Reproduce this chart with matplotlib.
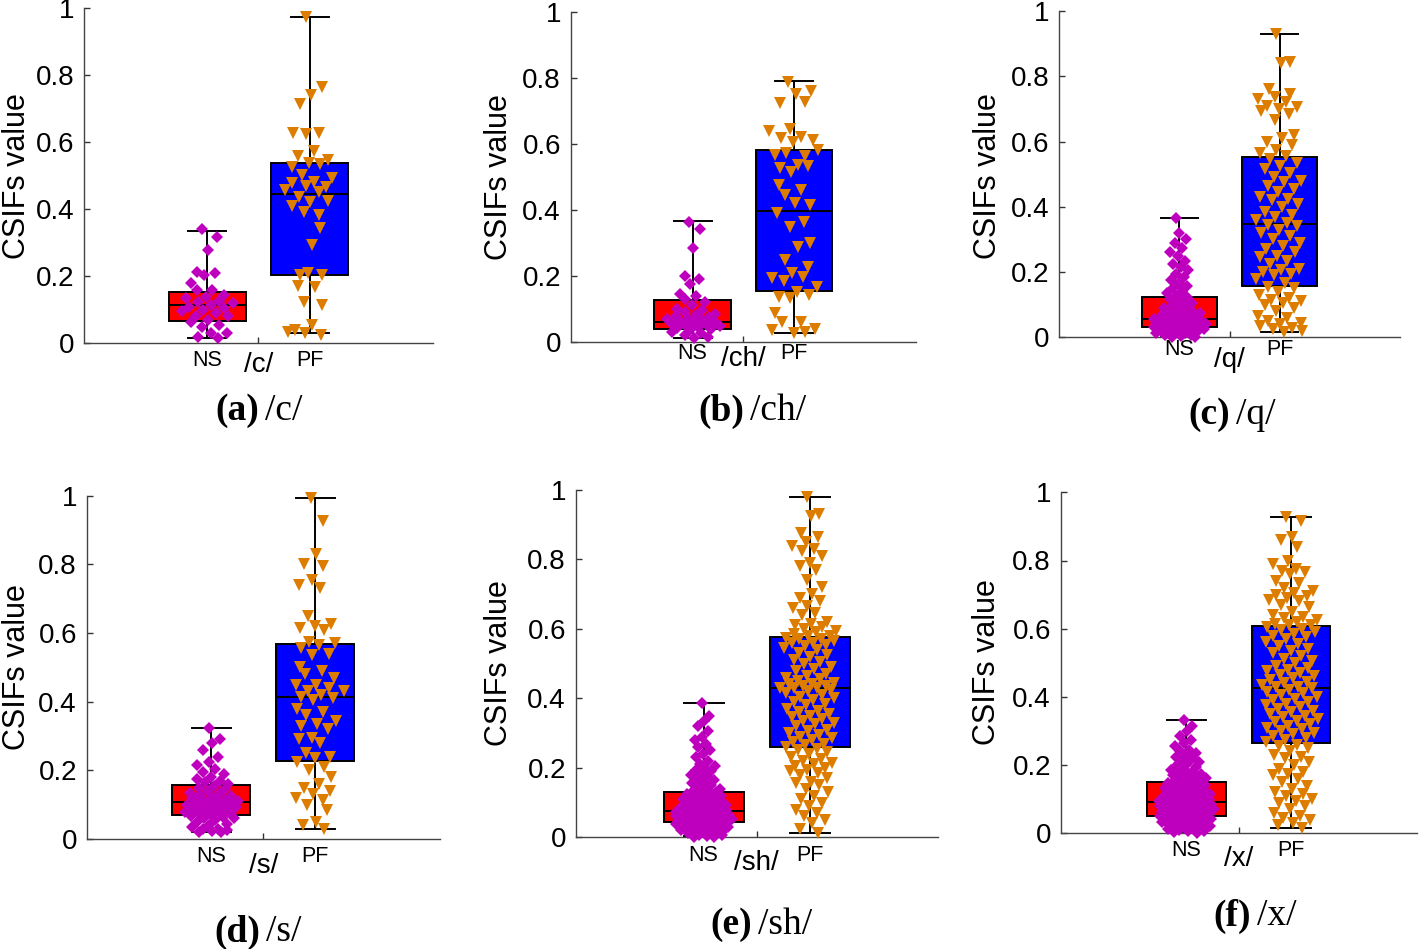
import numpy as np
import matplotlib
matplotlib.use("Agg")
import matplotlib.pyplot as plt

# ---------------- data ----------------
phonemes = ['/c/', '/ch/', '/q/', '/s/', '/sh/', '/x/']
panel_letters = ['(a)', '(b)', '(c)', '(d)', '(e)', '(f)']
groups = ['NS', 'PF']
y_ticks = [0, 0.2, 0.4, 0.6, 0.8, 1]
y_tick_labels = ['0', '0.2', '0.4', '0.6', '0.8', '1']

# box statistics
ns_q1 = [0.067, 0.038, 0.0325, 0.069, 0.045, 0.051]
ns_med = [0.114, 0.061, 0.055, 0.107, 0.075, 0.092]
ns_q3 = [0.154, 0.126, 0.1235, 0.157, 0.131, 0.149]
ns_lo = [0.017, 0.010, 0.003, 0.019, 0.005, 0.004]
ns_hi = [0.335, 0.366, 0.365, 0.324, 0.386, 0.332]
pf_q1 = [0.205, 0.155, 0.157, 0.228, 0.259, 0.264]
pf_med = [0.445, 0.397, 0.347, 0.414, 0.429, 0.427]
pf_q3 = [0.539, 0.580, 0.553, 0.567, 0.578, 0.608]
pf_lo = [0.030, 0.025, 0.017, 0.029, 0.013, 0.017]
pf_hi = [0.975, 0.790, 0.929, 0.992, 0.981, 0.929]

# individual CSIF values
ns_c = [0.34, 0.316, 0.278, 0.214, 0.21, 0.203, 0.18, 0.16, 0.159, 0.145, 0.139, 0.135,
        0.127, 0.124, 0.119, 0.114, 0.109, 0.104, 0.1, 0.095, 0.09, 0.08, 0.08, 0.07,
        0.065, 0.055, 0.05, 0.032, 0.03, 0.02, 0.015]
pf_c = [0.975, 0.766, 0.741, 0.714, 0.629, 0.625, 0.629, 0.575, 0.559, 0.547, 0.539, 0.527,
        0.535, 0.502, 0.493, 0.48, 0.478, 0.468, 0.47, 0.458, 0.453, 0.438, 0.425, 0.423,
        0.41, 0.383, 0.393, 0.343, 0.294, 0.204, 0.204, 0.211, 0.171, 0.167, 0.124, 0.114,
        0.055, 0.04, 0.025, 0.03, 0.035]
ns_ch = [0.364, 0.343, 0.283, 0.2, 0.19, 0.175, 0.145, 0.14, 0.13, 0.12, 0.11, 0.1, 0.095,
         0.09, 0.085, 0.08, 0.078, 0.075, 0.07, 0.068, 0.065, 0.062, 0.06, 0.058, 0.055,
         0.052, 0.05, 0.048, 0.045, 0.042, 0.04, 0.035, 0.03, 0.025, 0.02, 0.015, 0.01]
pf_ch = [0.788, 0.76, 0.75, 0.722, 0.727, 0.646, 0.638, 0.62, 0.616, 0.611, 0.606, 0.566,
         0.563, 0.571, 0.58, 0.535, 0.525, 0.532, 0.515, 0.475, 0.46, 0.444, 0.414, 0.419,
         0.389, 0.364, 0.348, 0.298, 0.288, 0.247, 0.227, 0.207, 0.192, 0.197, 0.184, 0.167,
         0.152, 0.136, 0.141, 0.131, 0.086, 0.061, 0.061, 0.04, 0.025, 0.035, 0.03]
ns_q = [0.0, 0.002, 0.004, 0.006, 0.008, 0.01, 0.012, 0.014, 0.016, 0.018, 0.02, 0.022,
        0.024, 0.025, 0.026, 0.027, 0.028, 0.03, 0.031, 0.032,
        0.033, 0.034, 0.035, 0.036, 0.037, 0.038, 0.039, 0.04, 0.041, 0.042, 0.043, 0.044,
        0.045, 0.046, 0.047, 0.048, 0.05, 0.051, 0.053, 0.055,
        0.056, 0.058, 0.06, 0.062, 0.064, 0.066, 0.068, 0.07, 0.073, 0.076, 0.079, 0.082,
        0.086, 0.09, 0.095, 0.1, 0.105, 0.11, 0.116, 0.122,
        0.128, 0.135, 0.142, 0.15, 0.158, 0.166, 0.175, 0.185, 0.195, 0.205, 0.215, 0.225,
        0.235, 0.25, 0.26, 0.275, 0.29, 0.3, 0.32, 0.365]
pf_q = [0.929, 0.845, 0.84, 0.76, 0.745, 0.735, 0.73, 0.72, 0.71, 0.705, 0.70, 0.695,
        0.685, 0.665, 0.62, 0.612, 0.60, 0.59, 0.575, 0.565, 0.555,
        0.545, 0.535, 0.525, 0.515, 0.505, 0.49, 0.48, 0.475, 0.465, 0.455, 0.445, 0.43,
        0.425, 0.42, 0.41, 0.40, 0.385, 0.375, 0.37, 0.36, 0.35,
        0.345, 0.34, 0.33, 0.32, 0.31, 0.30, 0.29, 0.28, 0.27, 0.26, 0.25, 0.245, 0.235,
        0.225, 0.21, 0.205, 0.2, 0.195, 0.19, 0.18, 0.165,
        0.155, 0.15, 0.14, 0.13, 0.12, 0.115, 0.11, 0.105, 0.1, 0.09, 0.08, 0.065, 0.06,
        0.05, 0.045, 0.04, 0.035, 0.03, 0.025, 0.02, 0.017]
ns_s = [0.324, 0.29, 0.28, 0.26, 0.24, 0.225, 0.215, 0.205, 0.195, 0.19, 0.18, 0.175, 0.17,
        0.165, 0.16,
        0.155, 0.15, 0.145, 0.14, 0.135, 0.13, 0.128, 0.125, 0.12, 0.118, 0.115, 0.113,
        0.11, 0.108, 0.107,
        0.105, 0.102, 0.1, 0.098, 0.095, 0.092, 0.09, 0.088, 0.085, 0.082, 0.08, 0.078,
        0.075, 0.072, 0.07,
        0.068, 0.065, 0.062, 0.06, 0.055, 0.05, 0.045, 0.04, 0.035, 0.03, 0.028, 0.025,
        0.022, 0.02, 0.019]
pf_s = [0.992, 0.925, 0.83, 0.80, 0.795, 0.755, 0.74, 0.73, 0.65, 0.625, 0.62, 0.615, 0.61,
        0.575, 0.57,
        0.565, 0.555, 0.54, 0.535, 0.5, 0.49, 0.48, 0.47, 0.45, 0.45, 0.44, 0.43, 0.43,
        0.42, 0.415,
        0.41, 0.405, 0.38, 0.37, 0.36, 0.345, 0.335, 0.33, 0.32, 0.295, 0.29, 0.28, 0.25,
        0.24, 0.235,
        0.225, 0.21, 0.2, 0.18, 0.16, 0.15, 0.14, 0.13, 0.12, 0.115, 0.1, 0.085, 0.05,
        0.04, 0.03]
ns_sh = [0.386, 0.35, 0.335, 0.32, 0.305, 0.29, 0.28, 0.27, 0.26, 0.25, 0.24, 0.23, 0.22,
         0.21, 0.205, 0.2, 0.195, 0.19, 0.185, 0.18, 0.175, 0.17, 0.165, 0.16, 0.155, 0.15,
         0.145, 0.14, 0.135, 0.132,
         0.13, 0.128, 0.126, 0.124, 0.122, 0.12, 0.118, 0.116, 0.114, 0.112, 0.11, 0.108,
         0.106, 0.104, 0.102, 0.1, 0.098, 0.096, 0.094, 0.092, 0.09, 0.088, 0.086, 0.084,
         0.082, 0.08, 0.079, 0.078, 0.077, 0.076,
         0.074, 0.073, 0.072, 0.071, 0.07, 0.069, 0.068, 0.067, 0.066, 0.065, 0.064, 0.063,
         0.062, 0.061, 0.06, 0.059, 0.058, 0.057, 0.056, 0.055, 0.054, 0.053, 0.052, 0.051,
         0.05, 0.049, 0.048, 0.047, 0.046, 0.045,
         0.044, 0.043, 0.042, 0.041, 0.04, 0.039, 0.038, 0.037, 0.036, 0.035, 0.034, 0.033,
         0.032, 0.031, 0.03, 0.028, 0.026, 0.024, 0.022, 0.02, 0.018, 0.016, 0.014, 0.012,
         0.01, 0.008, 0.006, 0.004, 0.002, 0.0]
pf_sh = [0.981, 0.93, 0.925, 0.875, 0.865, 0.85, 0.84, 0.83, 0.825, 0.81, 0.79, 0.78, 0.77,
         0.74, 0.72, 0.70, 0.69, 0.68, 0.665, 0.66, 0.645, 0.64, 0.62, 0.615, 0.61, 0.605,
         0.60, 0.595, 0.59, 0.585, 0.58, 0.58,
         0.575, 0.57, 0.57, 0.565, 0.56, 0.56, 0.555, 0.55, 0.545, 0.54, 0.53, 0.525, 0.52,
         0.51, 0.505, 0.50, 0.49, 0.485, 0.48, 0.47, 0.465, 0.46, 0.455, 0.45, 0.445, 0.44,
         0.44, 0.435, 0.435, 0.43, 0.43, 0.43,
         0.425, 0.42, 0.415, 0.41, 0.405, 0.40, 0.395, 0.39, 0.385, 0.38, 0.37, 0.365, 0.36,
         0.355, 0.35, 0.345, 0.34, 0.335, 0.33, 0.325, 0.32, 0.31, 0.305, 0.30, 0.295, 0.29,
         0.285, 0.28, 0.275, 0.27, 0.265, 0.26,
         0.255, 0.25, 0.245, 0.24, 0.23, 0.225, 0.22, 0.215, 0.21, 0.205, 0.2, 0.195, 0.19,
         0.185, 0.18, 0.17, 0.16, 0.155, 0.15, 0.14, 0.13, 0.12, 0.11, 0.1, 0.09, 0.08,
         0.07, 0.06, 0.05, 0.04, 0.025, 0.013]
ns_x = [0.332, 0.315, 0.3, 0.285, 0.275, 0.265, 0.255, 0.245, 0.24, 0.235, 0.23, 0.225,
        0.22, 0.215, 0.21, 0.205, 0.2, 0.195, 0.19, 0.185, 0.18, 0.178, 0.175, 0.172, 0.17,
        0.167, 0.164, 0.161, 0.158, 0.155, 0.152, 0.15,
        0.148, 0.146, 0.144, 0.142, 0.14, 0.138, 0.136, 0.134, 0.132, 0.13, 0.128, 0.126,
        0.124, 0.122, 0.12, 0.118, 0.116, 0.114, 0.112, 0.11, 0.108, 0.106, 0.104, 0.102,
        0.1, 0.099, 0.098, 0.097, 0.096, 0.095, 0.094, 0.093,
        0.091, 0.09, 0.089, 0.088, 0.087, 0.086, 0.085, 0.084, 0.083, 0.082, 0.08, 0.079,
        0.078, 0.077, 0.076, 0.075, 0.073, 0.072, 0.071, 0.07, 0.068, 0.066, 0.065, 0.063,
        0.062, 0.06, 0.059, 0.057, 0.056, 0.055, 0.053, 0.052,
        0.05, 0.049, 0.048, 0.046, 0.045, 0.044, 0.042, 0.041, 0.04, 0.038, 0.037, 0.035,
        0.034, 0.032, 0.031, 0.03, 0.028, 0.026, 0.025, 0.023, 0.021, 0.02, 0.018, 0.016,
        0.015, 0.013, 0.011, 0.01, 0.008, 0.006, 0.004, 0.002]
pf_x = [0.929, 0.915, 0.87, 0.86, 0.84, 0.8, 0.79, 0.775, 0.77, 0.765, 0.76, 0.74, 0.735,
        0.72, 0.71, 0.705, 0.70, 0.695, 0.69, 0.685, 0.68, 0.67, 0.665, 0.65, 0.64, 0.635,
        0.63, 0.625, 0.62, 0.615, 0.612, 0.61,
        0.605, 0.6, 0.595, 0.59, 0.585, 0.58, 0.575, 0.57, 0.56, 0.555, 0.55, 0.54, 0.535,
        0.53, 0.52, 0.51, 0.505, 0.5, 0.49, 0.485, 0.48, 0.475, 0.47, 0.465, 0.46, 0.455,
        0.45, 0.445, 0.44, 0.435, 0.43, 0.428,
        0.425, 0.42, 0.415, 0.41, 0.405, 0.4, 0.395, 0.39, 0.385, 0.38, 0.375, 0.37, 0.365,
        0.36, 0.355, 0.35, 0.345, 0.34, 0.335, 0.33, 0.325, 0.32, 0.315, 0.31, 0.305, 0.3,
        0.295, 0.29, 0.285, 0.28, 0.275, 0.268,
        0.26, 0.255, 0.25, 0.24, 0.23, 0.225, 0.22, 0.21, 0.2, 0.19, 0.18, 0.175, 0.17,
        0.16, 0.15, 0.14, 0.13, 0.12, 0.115, 0.11, 0.1, 0.095, 0.09, 0.08, 0.07, 0.06,
        0.05, 0.045, 0.04, 0.03, 0.025, 0.017]

ns_values = [ns_c, ns_ch, ns_q, ns_s, ns_sh, ns_x]
pf_values = [pf_c, pf_ch, pf_q, pf_s, pf_sh, pf_x]

# ---------------- layout / style ----------------
W, H = 1419, 949
DPI = 100
SANS = 'Liberation Sans'
SERIF = 'Liberation Serif'
NS_BOX = '#FF0000'
PF_BOX = '#0000FF'
NS_MARK = '#BE00BE'
PF_MARK = '#DC7D00'

# axes rectangles in pixels: left, right, top(y=1), bottom(y=0)
ax_px = [(84, 433, 8.3, 343.3), (570.7, 916, 11.7, 341.7), (1059, 1400, 11, 337.3),
         (86.7, 440, 495.7, 839), (575.7, 938, 490, 837.3), (1060.7, 1416.7, 492.3, 833.3)]
grp_off = [17, 12, 12, 18, 18, 17]      # px below axis for NS / PF
ph_off = [22, 17, 23, 27, 26, 26]       # px below axis for phoneme label
ylab_px = [(17, 176), (499, 177), (988, 176), (17, 667), (499, 663), (987, 662)]
cap_px = [(259, 411), (744, 411), (1230, 415), (260, 932), (752, 925), (1251, 916)]


def jitter(vals, maxw=0.28):
    v = np.asarray(vals, dtype=float)
    d = np.array([np.sum(np.abs(v - x) < 0.03) for x in v], dtype=float)
    w = maxw * np.sqrt(d / d.max())
    w = np.maximum(w, 0.035)
    u = ((np.arange(len(v)) * 0.6180339887 + 0.3) % 1.0) * 2 - 1
    return w * u


fig = plt.figure(figsize=(W / DPI, H / DPI), dpi=DPI)
fig.patch.set_facecolor('white')

for i in range(6):
    l, r, t, b = ax_px[i]
    ax = fig.add_axes([l / W, (H - b) / H, (r - l) / W, (b - t) / H])
    stats = [dict(med=ns_med[i], q1=ns_q1[i], q3=ns_q3[i], whislo=ns_lo[i], whishi=ns_hi[i]),
             dict(med=pf_med[i], q1=pf_q1[i], q3=pf_q3[i], whislo=pf_lo[i], whishi=pf_hi[i])]
    bp = ax.bxp(stats, positions=[1, 2], widths=0.75, capwidths=0.375, patch_artist=True,
                showfliers=False,
                boxprops=dict(edgecolor='black', linewidth=1.4),
                medianprops=dict(color='black', linewidth=1.4),
                whiskerprops=dict(color='black', linewidth=1.4),
                capprops=dict(color='black', linewidth=1.4), zorder=2)
    bp['boxes'][0].set_facecolor(NS_BOX)
    bp['boxes'][1].set_facecolor(PF_BOX)

    ns = np.asarray(ns_values[i])
    pf = np.asarray(pf_values[i])
    ax.plot(1 + jitter(ns), ns, linestyle='none', marker='D', markersize=6.5,
            color=NS_MARK, markeredgewidth=0, zorder=3, clip_on=False)
    ax.plot(2 + jitter(pf), pf, linestyle='none', marker='v', markersize=9,
            color=PF_MARK, markeredgewidth=0, zorder=3, clip_on=False)

    ax.set_xlim(-0.2, 3.2)
    ax.set_ylim(0, 1)
    ax.set_yticks(y_ticks)
    ax.set_yticklabels(y_tick_labels, fontfamily=SANS, fontsize=20)
    ax.set_xticks([1.5])
    ax.set_xticklabels([''])
    ax.tick_params(axis='both', direction='in', length=4, width=1, color='#333333')
    ax.tick_params(axis='y', pad=7)
    for s in ['top', 'right']:
        ax.spines[s].set_visible(False)
    for s in ['left', 'bottom']:
        ax.spines[s].set_color('#444444')
        ax.spines[s].set_linewidth(1.0)

    for pos, g in zip([1, 2], groups):
        ax.annotate(g, xy=(pos, 0), xycoords=('data', 'axes fraction'),
                    xytext=(0, -grp_off[i] * 0.72), textcoords='offset points',
                    ha='center', va='center', fontfamily=SANS, fontsize=15.5)
    ax.annotate(phonemes[i], xy=(1.5, 0), xycoords=('data', 'axes fraction'),
                xytext=(0, -ph_off[i] * 0.72), textcoords='offset points',
                ha='center', va='center', fontfamily=SANS, fontsize=20)

    yx, yy = ylab_px[i]
    fig.text(yx / W, (H - yy) / H, 'CSIFs value', rotation=90, ha='center', va='center',
             fontfamily=SANS, fontsize=22)

    cx, cy = cap_px[i]
    fig.text(cx / W, (H - cy) / H, panel_letters[i], ha='right', va='center',
             fontfamily=SERIF, fontweight='bold', fontsize=27)
    fig.text(cx / W + 6 / W, (H - cy) / H, phonemes[i], ha='left', va='center',
             fontfamily=SERIF, fontsize=27)

fig.savefig('out.png', dpi=DPI, facecolor='white')
